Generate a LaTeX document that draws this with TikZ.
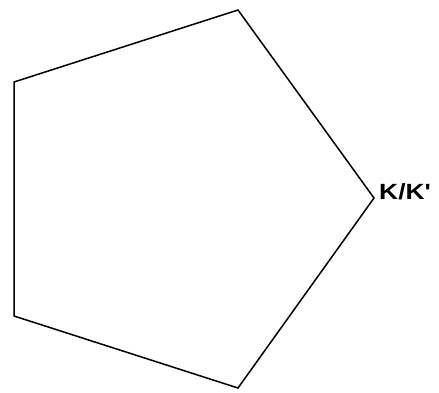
\documentclass[tikz,border=0pt]{standalone}
\usepackage{fontspec}
\setmainfont{Liberation Sans}
\begin{document}
\begin{tikzpicture}[x=1pt,y=-1pt,
  edge/.style={draw=black,line width=1.5pt,line join=miter},
  lbl/.style={font=\fontsize{22}{25}\selectfont\bfseries,anchor=base west,inner sep=0pt,xscale=1.2}]
\useasboundingbox (0,0) rectangle (439,392);
\coordinate (v1) at (238,10);
\coordinate (v2) at (374,198);
\coordinate (v3) at (238,388);
\coordinate (v4) at (14,316);
\coordinate (v5) at (14,82);
\draw[edge] (v1) -- (v2) -- (v3) -- (v4) -- (v5) -- cycle;
\node[lbl] (k) at (379,199) {K/K\textquotesingle};
\end{tikzpicture}
\end{document}
